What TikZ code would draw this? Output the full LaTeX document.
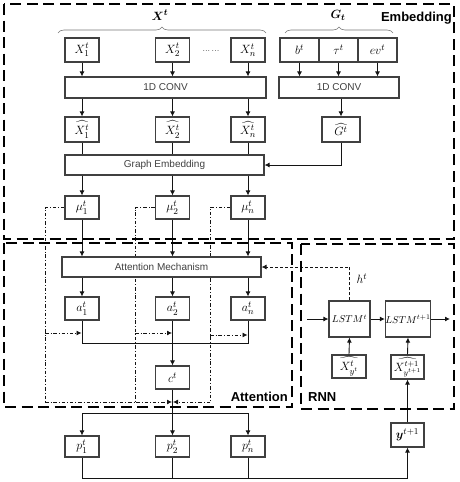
\documentclass[tikz,border=0pt]{standalone}
\usepackage{amsmath}
\usepackage{fontspec}
\setsansfont{Liberation Sans}
\usetikzlibrary{arrows.meta,decorations.pathreplacing,backgrounds}
\definecolor{boxgray}{RGB}{64,64,64}
\definecolor{linec}{RGB}{20,20,20}
\definecolor{bracegray}{RGB}{120,120,120}
\begin{document}
\begin{tikzpicture}[x=1pt,y=-1pt,
  box/.style={draw=boxgray, line width=1.1pt, fill=white, inner sep=0pt,
              minimum width=34pt, minimum height=24pt, font=\fontsize{13}{15}\selectfont},
  bar/.style={box, text=boxgray, font=\sffamily\fontsize{10}{12}\selectfont},
  tip/.style={-{Latex[length=5pt,width=5pt]}},
  arr/.style={draw=linec, line width=0.9pt, tip},
  ln/.style={draw=linec, line width=0.9pt},
  dd/.style={draw=linec, line width=0.8pt, dash pattern=on 3.5pt off 2pt on 0.8pt off 2pt},
  hdash/.style={draw=linec, line width=0.9pt, dash pattern=on 3pt off 2pt},
  region/.style={draw=black, line width=2.6pt, dash pattern=on 11pt off 5.5pt},
  lbl/.style={font=\sffamily\bfseries\fontsize{13}{15}\selectfont, inner sep=0pt},
  brc/.style={draw=bracegray, line width=0.6pt, decorate, decoration={brace, amplitude=6pt}}
]
\useasboundingbox (0,0) rectangle (459,482);

% ---------- embedding part ----------
\node[box] (x1) at (82,50) {$X_1^t$};
\node[box] (x2) at (172.5,50) {$X_2^t$};
\node[box] (xn) at (248,50) {$X_n^t$};
\node[font=\small] (dots) at (211,51) {...\,...};

\node[box, minimum width=39pt] (bt) at (299.5,50) {$b^t$};
\node[box, minimum width=39pt] (taut) at (338.5,50) {$\tau^t$};
\node[box, minimum width=39pt] (evt) at (377.5,50) {$ev^t$};

\coordinate (xbl) at (58,33);
\coordinate (xbr) at (266,33);
\coordinate (gbl) at (285,33);
\coordinate (gbr) at (393,33);
\draw[brc] (xbl) -- (xbr);
\draw[brc] (gbl) -- (gbr);
\node[font=\fontsize{13}{15}\selectfont] (xlab) at (160,15) {$\boldsymbol{X^t}$};
\node[font=\fontsize{13}{15}\selectfont] (glab) at (338,15) {$\boldsymbol{G_t}$};

\node[bar, minimum width=201pt, minimum height=21pt] (conv1) at (165.5,87.5) {1D CONV};
\node[bar, minimum width=120pt, minimum height=21pt] (conv2) at (339,87.5) {1D CONV};

\node[box, minimum height=25pt] (h1) at (82,129.5) {$\widehat{X_1^t}$};
\node[box, minimum height=25pt] (h2) at (172.5,129.5) {$\widehat{X_2^t}$};
\node[box, minimum height=25pt] (hn) at (248,129.5) {$\widehat{X_n^t}$};
\node[box, minimum width=38pt, minimum height=25pt] (gh) at (341,129.5) {$\widehat{G^t}$};

\node[bar, minimum width=199pt, minimum height=20pt] (ge) at (164.5,165) {Graph Embedding};

\node[box, minimum height=23pt] (mu1) at (82,207.5) {$\mu_1^t$};
\node[box, minimum height=23pt] (mu2) at (172.5,207.5) {$\mu_2^t$};
\node[box, minimum height=23pt] (mun) at (248,207.5) {$\mu_n^t$};

\foreach \n in {x1,x2,xn} \draw[arr] (\n.south) -- (\n.south |- conv1.north);
\foreach \n in {bt,taut,evt} \draw[arr] (\n.south) -- (\n.south |- conv2.north);
\foreach \n in {h1,h2,hn} {
  \draw[arr] (\n.north |- conv1.south) -- (\n.north);
  \draw[ln] (\n.south) -- (\n.south |- ge.north);
}
\draw[arr] (gh.north |- conv2.south) -- (gh.north);
\draw[arr] (gh.south) |- (ge.east);
\foreach \n in {mu1,mu2,mun} \draw[arr] (\n.north |- ge.south) -- (\n.north);

% ---------- attention part ----------
\coordinate (d1) at (45,402);
\coordinate (d2) at (135,402);
\coordinate (d3) at (210,402);
\coordinate (e1) at (45,333);
\coordinate (e2) at (135,333);
\coordinate (e3) at (210,335);

\node[bar, minimum width=199pt, minimum height=20pt] (am) at (161.5,267) {Attention Mechanism};
\node[box, minimum height=23pt] (a1) at (82,308.5) {$a_1^t$};
\node[box, minimum height=23pt] (a2) at (172.5,308.5) {$a_2^t$};
\node[box, minimum height=23pt] (an) at (248,308.5) {$a_n^t$};
\node[box, minimum height=23pt] (c) at (172.5,377.5) {$c^t$};

\begin{pgfonlayer}{background}
  \draw[dd] (mu1.west) -| (d1);
  \draw[dd, tip, shorten >=0.5pt] (d1) -- (c.south |- d1);
  \draw[dd] (mu2.west) -| (d2);
  \draw[dd] (mun.west) -| (d3);
  \draw[dd, tip, shorten >=0.5pt] (d3) -- (c.south |- d3);
  \draw[dd, tip, shorten >=0.5pt] (e1) -- (a1.south |- e1);
  \draw[dd, tip, shorten >=0.5pt] (e2) -- (a2.south |- e2);
  \draw[dd, tip, shorten >=0.5pt] (e3) -- (an.south |- e3);
\end{pgfonlayer}

\foreach \n in {mu1,mu2,mun} \draw[arr] (\n.south) -- (\n.south |- am.north);
\foreach \n in {a1,a2,an} \draw[arr] (\n.north |- am.south) -- (\n.north);

\coordinate (ajoin) at (172.5,343);
\draw[ln] (a1.south) -- (a1.south |- ajoin) -- (an.south |- ajoin) -- (an.south);
\draw[arr] (a2.south) -- (c.north);

% ---------- outputs ----------
\node[box, minimum height=21pt] (p1) at (82,446.5) {$p_1^t$};
\node[box, minimum height=21pt] (p2) at (172.5,446.5) {$p_2^t$};
\node[box, minimum height=21pt] (pn) at (248,446.5) {$p_n^t$};

\coordinate (cjoin) at (172.5,413);
\draw[ln] (c.south) -- (cjoin);
\draw[arr] (cjoin) -| (p1.north);
\draw[arr] (cjoin) -- (p2.north);
\draw[arr] (cjoin) -| (pn.north);

% ---------- RNN part ----------
\node[box, minimum width=33pt, minimum height=24pt] (yb) at (407.5,435) {$\boldsymbol{y}^{t+1}$};
\node[box, minimum width=33pt, minimum height=24pt, font=\fontsize{11.5}{13}\selectfont] (xq1) at (407.5,367) {$\widehat{X_{y^{t+1}}^{t+1}}$};
\node[box, minimum width=34pt, minimum height=23pt] (xq) at (349,366.5) {$\widehat{X_{y^t}^{t}}$};
\node[box, minimum width=41pt, minimum height=36pt, font=\fontsize{10}{12}\selectfont] (lstm1) at (349.5,319) {$LSTM^t$};
\node[box, minimum width=42pt, minimum height=36pt, font=\fontsize{10}{12}\selectfont] (lstm2) at (408,319) {$LSTM^{t+1}$};
\coordinate (lstmin) at (307,319);
\coordinate (lstmout) at (450,319);

\coordinate (bot) at (82,478);
\draw[arr] (p1.south) |- (yb.south |- bot) -- (yb.south);
\draw[ln] (p2.south) -- (p2.south |- bot);
\draw[ln] (pn.south) -- (pn.south |- bot);
\draw[arr] (yb.north) -- (xq1.south);
\draw[arr] (xq1.north) -- (lstm2.south);
\draw[arr] (xq.north) -- (lstm1.south);
\draw[arr] (lstmin) -- (lstm1.west);
\draw[arr] (lstm1.east) -- (lstm2.west);
\draw[arr] (lstm2.east) -- (lstmout);
\draw[hdash, tip] (lstm1.north) |- (am.east);
\node[anchor=west, font=\fontsize{13}{15}\selectfont] (hlab) at (353,279) {$h^t$};

% ---------- dashed regions ----------
\draw[region] (4,4) rectangle (454,239);
\draw[region] (4,243) rectangle (292,407);
\draw[region] (301,244) rectangle (454,409);
\node[lbl, anchor=east] (embl) at (452,18) {Embedding};
\node[lbl, anchor=east] (attl) at (288,397) {Attention};
\node[lbl, anchor=west] (rnnl) at (308,397) {RNN};
\end{tikzpicture}
\end{document}
